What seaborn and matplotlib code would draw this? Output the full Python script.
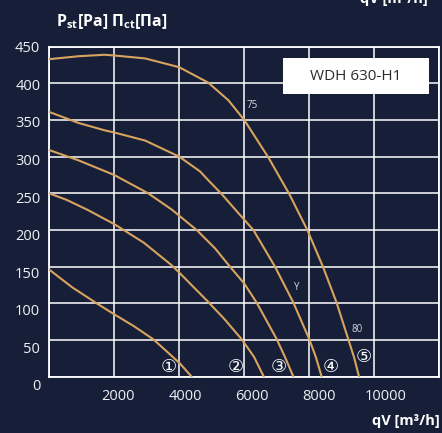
import numpy as np
import pandas as pd
import matplotlib
matplotlib.use("Agg")
import matplotlib.pyplot as plt
import matplotlib.transforms as mtransforms
from matplotlib.patches import Rectangle
import seaborn as sns

# ---- data ----
c1_flow = [0, 700, 1460, 2000, 2600, 3200, 3700, 4020, 4380]
c1_pa   = [146, 122, 100, 85, 69, 51, 31, 18, 0]

c2_flow = [0, 540, 1200, 2000, 2900, 3765, 4020, 4890, 5400, 5920, 6300, 6600]
c2_pa   = [250, 241, 227, 208, 183, 152, 141, 102, 78, 51, 27, 0]

c3_flow = [0, 900, 2000, 3045, 3765, 4535, 5100, 5560, 6000, 6380, 7000, 7250, 7510]
c3_pa   = [309, 295, 275, 250, 228, 200, 175, 150, 127, 101, 51, 27, 0]

c4_flow = [0, 900, 1700, 2000, 2950, 4000, 4637, 4890, 5305, 5800, 6280, 6945, 7510, 8000, 8200, 8380]
c4_pa   = [361, 346, 336, 333, 322, 300, 280, 268, 249, 224, 200, 150, 101, 51, 27, 0]

c5_flow = [0, 900, 1700, 2000, 2950, 4000, 4890, 5510, 6000, 6740, 7385, 7940, 8420, 8840, 9200, 9380, 9530]
c5_pa   = [433, 437, 439, 438, 434, 422, 401, 377, 350, 299, 249, 200, 150, 101, 51, 26, 0]

curve_names = ["1", "2", "3", "4", "5"]
circled_labels = ["①", "②", "③", "④", "⑤"]
circled_flow = [3680, 5745, 7070, 8670, 9685]
circled_pa = [13, 13, 13, 13, 27]

small_labels = ["75", "Y", "80"]
small_flow = [6237, 7620, 9470]
small_pa = [370, 122, 65]

x_ticks = [0, 2000, 4000, 6000, 8000, 10000, 12000]
x_ticklabels = ["", "2000", "4000", "6000", "8000", "10000", ""]
y_ticks = [0, 50, 100, 150, 200, 250, 300, 350, 400, 450]

model_name = "WDH 630-H1"
y_title = "P$_{\\mathrm{st}}$[Pa] П$_{\\mathrm{ct}}$[Па]"
x_title = "qV [m³/h]"

# ---- build table ----
frames = []
for name, fl, pa in zip(curve_names,
                        [c1_flow, c2_flow, c3_flow, c4_flow, c5_flow],
                        [c1_pa, c2_pa, c3_pa, c4_pa, c5_pa]):
    frames.append(pd.DataFrame({"curve": name, "flow": fl, "pa": pa}))
df = pd.concat(frames, ignore_index=True)

# ---- style ----
BG = "#161f37"
CURVE = "#d8a35f"
sns.set_style("dark")
plt.rcParams["font.family"] = ["Open Sans", "DejaVu Sans", "Noto Sans CJK JP"]
plt.rcParams["mathtext.fontset"] = "custom"
plt.rcParams["mathtext.rm"] = "Open Sans:bold"

fig = plt.figure(figsize=(4.42, 4.33), dpi=100, facecolor=BG)
ax = fig.add_axes([49.3 / 442, 1 - 376.7 / 433, 390 / 442, 330 / 433])
ax.set_facecolor(BG)

sns.lineplot(data=df, x="flow", y="pa", units="curve", estimator=None,
             sort=False, color=CURVE, lw=1.5, ax=ax, zorder=3)

ax.set_xlim(0, 12000)
ax.set_ylim(0, 450)
ax.set_xticks(x_ticks)
ax.set_xticklabels(x_ticklabels)
ax.set_yticks(y_ticks)
ax.set_xlabel("")
ax.set_ylabel("")
ax.grid(True, color="white", lw=1.1, zorder=1)
ax.set_axisbelow(True)
for s in ax.spines.values():
    s.set_visible(True)
    s.set_color("white")
    s.set_linewidth(1.3)
ax.tick_params(axis="both", length=0, colors="#eef0f4", labelsize=10.5)
ax.tick_params(axis="x", pad=9)
ax.tick_params(axis="y", pad=6.5)

# slight label drift as in the reference
for lab, v in zip(ax.get_xticklabels(), x_ticks):
    off = mtransforms.ScaledTranslation((2 + 1.95 * v / 2000) / 100, 0, fig.dpi_scale_trans)
    lab.set_transform(lab.get_transform() + off)
for lab, v in zip(ax.get_yticklabels(), y_ticks):
    off = mtransforms.ScaledTranslation(0, -((450 - v) / 450 * 8.3) / 100, fig.dpi_scale_trans)
    lab.set_transform(lab.get_transform() + off)

# model box
ax.add_patch(Rectangle((0.598, 0.856), 0.376, 0.109, transform=ax.transAxes,
                       facecolor="white", edgecolor="none", zorder=4))
ax.text(0.786, 0.9105, model_name, transform=ax.transAxes, ha="center", va="center",
        fontsize=11, color="#2b2b2b", zorder=5)

# curve labels
for t, fx, py in zip(circled_labels, circled_flow, circled_pa):
    ax.text(fx, py, t, ha="center", va="center", fontsize=13, color="white",
            family=["DejaVu Sans", "Noto Sans CJK JP"], zorder=5)
for t, fx, py in zip(small_labels, small_flow, small_pa):
    ax.text(fx, py, t, ha="center", va="center", fontsize=7, color="#d4d8e0", zorder=5)

# titles
fig.text(56 / 442, 1 - 22 / 433, y_title, ha="left", va="center",
         fontsize=11.5, fontweight="bold", color="white")
fig.text(440 / 442, 1 - 421 / 433, x_title, ha="right", va="center",
         fontsize=10.5, fontweight="bold", color="white")
fig.text(428 / 442, 1 + 1 / 433, x_title, ha="right", va="center",
         fontsize=10.5, fontweight="bold", color="white")

fig.savefig("out.png", dpi=100, facecolor=BG)
